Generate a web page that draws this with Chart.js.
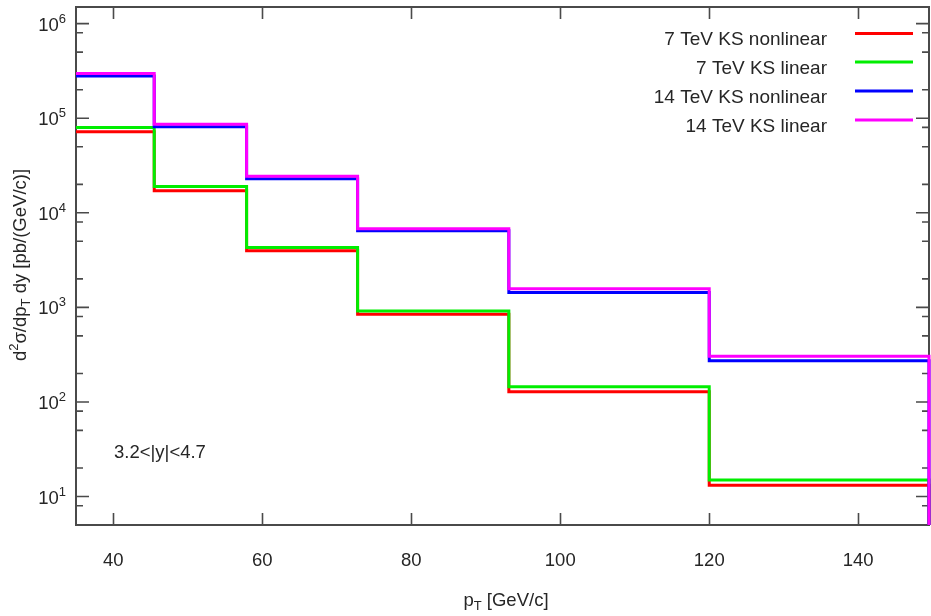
<!DOCTYPE html>
<html>
<head>
<meta charset="utf-8">
<script src="https://cdn.jsdelivr.net/npm/chart.js@4.4.1/dist/chart.umd.min.js"></script>
<style>
  html, body { margin: 0; padding: 0; background: #ffffff; }
  #wrap { width: 931px; height: 616px; position: relative; }
</style>
</head>
<body>
<div id="wrap"><canvas id="c"></canvas></div>
<script>
// pT bin edges [GeV/c]
const binEdges = [35, 45.5, 57.9, 72.8, 93.1, 120, 149.5];

// d2sigma/dpT dy per bin [pb/(GeV/c)]
const ks7Nonlinear  = [7.2e4, 1.71e4, 3.96e3, 845, 128, 13.2];
const ks7Linear     = [8.0e4, 1.90e4, 4.30e3, 918, 145, 15.0];
const ks14Nonlinear = [2.80e5, 8.13e4, 2.29e4, 6.45e3, 1.44e3, 272];
const ks14Linear    = [2.98e5, 8.66e4, 2.44e4, 6.77e3, 1.57e3, 304];

const seriesLabels = ['7 TeV KS nonlinear', '7 TeV KS linear', '14 TeV KS nonlinear', '14 TeV KS linear'];
const seriesColors = ['#ff0000', '#00ee00', '#0000ff', '#ff00ff'];

const xTickValues = [40, 60, 80, 100, 120, 140];
const yDecadeExponents = [1, 2, 3, 4, 5, 6];
const yMinorFactors = [2, 5, 8];
const rapidityLabel = '3.2<|y|<4.7';

const X_MIN = 35, X_MAX = 149.5;
const Y_MIN = 5, Y_MAX = 1.5e6;

const FONT = "'Liberation Sans', Arial, Helvetica, sans-serif";
const TEXT_COLOR = '#262626';
const AXIS_COLOR = '#4a4a4a';

// histogram outline: one point per bin start, then close the last bin and drop to the floor
function stepPoints(vals) {
  const pts = vals.map((v, i) => ({ x: binEdges[i], y: v }));
  const last = binEdges[binEdges.length - 1];
  pts.push({ x: last, y: vals[vals.length - 1] });
  pts.push({ x: last, y: Y_MIN });
  return pts;
}

// draws a run of text pieces (normal / superscript / subscript)
function drawRich(ctx, parts, x, y, align) {
  let total = 0;
  parts.forEach(p => { ctx.font = p.size + 'px ' + FONT; p.w = ctx.measureText(p.t).width; total += p.w; });
  let cx = align === 'right' ? x - total : align === 'center' ? x - total / 2 : x;
  ctx.textAlign = 'left';
  parts.forEach(p => {
    ctx.font = p.size + 'px ' + FONT;
    ctx.fillText(p.t, cx, y + (p.dy || 0));
    cx += p.w;
  });
}

const frameAndText = {
  id: 'frameAndText',
  beforeDatasetsDraw(chart) {
    const { ctx, chartArea: ca, scales } = chart;
    const xs = scales.x, ys = scales.y;
    ctx.save();
    ctx.strokeStyle = AXIS_COLOR;
    ctx.lineWidth = 1.6;

    // inward ticks on all four sides
    ctx.beginPath();
    xTickValues.forEach(v => {
      const px = Math.round(xs.getPixelForValue(v)) + 0.5;
      ctx.moveTo(px, ca.bottom); ctx.lineTo(px, ca.bottom - 12);
      ctx.moveTo(px, ca.top); ctx.lineTo(px, ca.top + 12);
    });
    yDecadeExponents.forEach(e => {
      const py = ys.getPixelForValue(Math.pow(10, e));
      ctx.moveTo(ca.left, py); ctx.lineTo(ca.left + 13, py);
      ctx.moveTo(ca.right, py); ctx.lineTo(ca.right - 13, py);
    });
    for (let e = 0; e <= 6; e++) {
      yMinorFactors.forEach(f => {
        const v = f * Math.pow(10, e);
        if (v <= Y_MIN || v >= Y_MAX) return;
        const py = ys.getPixelForValue(v);
        ctx.moveTo(ca.left, py); ctx.lineTo(ca.left + 7, py);
        ctx.moveTo(ca.right, py); ctx.lineTo(ca.right - 7, py);
      });
    }
    ctx.stroke();

    // frame
    ctx.lineWidth = 2;
    ctx.strokeRect(ca.left, ca.top, ca.right - ca.left, ca.bottom - ca.top);

    ctx.fillStyle = TEXT_COLOR;
    ctx.textBaseline = 'alphabetic';

    // x tick labels
    xTickValues.forEach(v => {
      drawRich(ctx, [{ t: String(v), size: 18.5 }], xs.getPixelForValue(v), 566, 'center');
    });

    // y tick labels as powers of ten
    yDecadeExponents.forEach(e => {
      const py = ys.getPixelForValue(Math.pow(10, e));
      drawRich(ctx, [{ t: '10', size: 18.5 }, { t: String(e), size: 13, dy: -8 }], 66, py + 7, 'right');
    });

    // x axis title
    drawRich(ctx, [{ t: 'p', size: 18.5 }, { t: 'T', size: 13, dy: 4 }, { t: ' [GeV/c]', size: 18.5 }], 506, 606, 'center');

    // y axis title
    ctx.save();
    ctx.translate(26, 265);
    ctx.rotate(-Math.PI / 2);
    drawRich(ctx, [
      { t: 'd', size: 18.5 }, { t: '2', size: 13, dy: -8 },
      { t: 'σ/dp', size: 18.5 }, { t: 'T', size: 13, dy: 4 },
      { t: ' dy [pb/(GeV/c)]', size: 18.5 }
    ], 0, 0, 'center');
    ctx.restore();

    // rapidity window
    drawRich(ctx, [{ t: rapidityLabel, size: 18.5 }], 114, 458, 'left');
    ctx.restore();
  },
  afterDatasetsDraw(chart) {
    const { ctx } = chart;
    ctx.save();
    ctx.fillStyle = TEXT_COLOR;
    ctx.textBaseline = 'alphabetic';
    const lineYs = [33.5, 62, 91, 120];
    chart.data.datasets.forEach((ds, i) => {
      drawRich(ctx, [{ t: ds.label, size: 19 }], 827, lineYs[i] + 11.5, 'right');
      ctx.strokeStyle = ds.borderColor;
      ctx.lineWidth = 3;
      ctx.beginPath();
      ctx.moveTo(855, lineYs[i]);
      ctx.lineTo(913, lineYs[i]);
      ctx.stroke();
    });
    ctx.restore();
  }
};

const seriesValues = [ks7Nonlinear, ks7Linear, ks14Nonlinear, ks14Linear];

new Chart(document.getElementById('c'), {
  type: 'line',
  data: {
    datasets: seriesValues.map((vals, i) => ({
      label: seriesLabels[i],
      data: stepPoints(vals),
      borderColor: seriesColors[i],
      backgroundColor: seriesColors[i],
      borderWidth: 3,
      stepped: 'before',
      pointRadius: 0,
      fill: false,
      clip: 4,
      // later series are painted over earlier ones
      order: seriesValues.length - 1 - i,
      borderCapStyle: 'butt',
      borderJoinStyle: 'miter'
    }))
  },
  options: {
    responsive: true,
    maintainAspectRatio: false,
    animation: false,
    layout: { padding: { left: 76, top: 7, right: 2, bottom: 91 } },
    plugins: { legend: { display: false }, tooltip: { enabled: false } },
    scales: {
      x: { type: 'linear', min: X_MIN, max: X_MAX, display: false },
      y: { type: 'logarithmic', min: Y_MIN, max: Y_MAX, display: false }
    }
  },
  plugins: [frameAndText]
});
</script>
</body>
</html>
